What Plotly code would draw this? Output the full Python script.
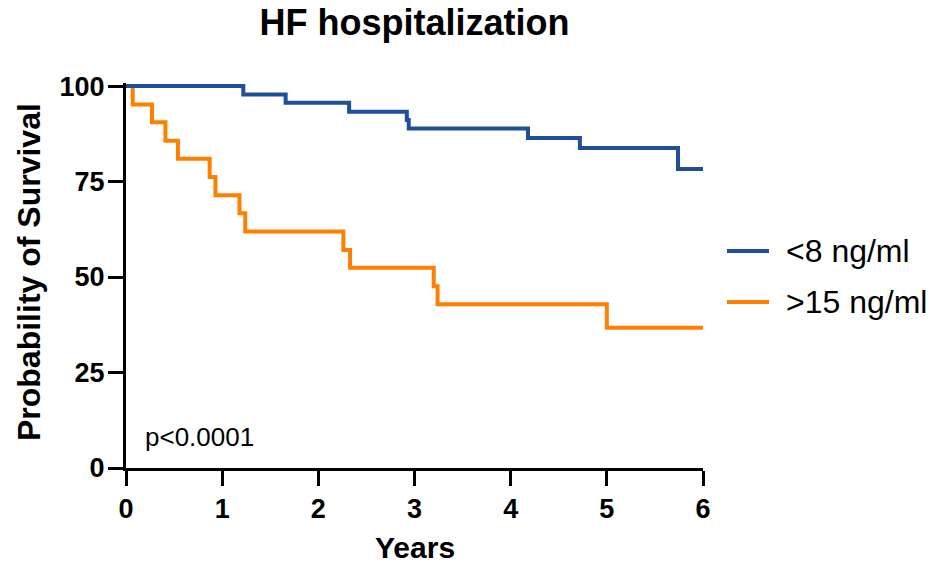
import plotly.graph_objects as go

# Data (Kaplan-Meier steps)
blue_name = "<8 ng/ml"
blue_t = [0, 1.22, 1.66, 2.32, 2.92, 2.94, 4.18, 4.72, 5.74, 6.0]
blue_s = [100, 97.8, 95.6, 93.3, 91.1, 88.9, 86.4, 83.8, 78.3, 78.3]

orange_name = ">15 ng/ml"
orange_t = [0, 0.07, 0.27, 0.41, 0.54, 0.87, 0.93, 1.18, 1.24, 2.26, 2.33, 3.20, 3.24, 5.0, 6.0]
orange_s = [100, 95.2, 90.5, 85.7, 81.0, 76.2, 71.4, 66.7, 61.9, 57.1, 52.4, 47.6, 42.9, 36.7, 36.7]

x_ticks = [0, 1, 2, 3, 4, 5, 6]
y_ticks = [0, 25, 50, 75, 100]

BLUE = "#1f4e9b"
ORANGE = "#ff8000"
FONT = "Liberation Sans, Arial, sans-serif"

fig = go.Figure()
fig.add_trace(go.Scatter(x=orange_t, y=orange_s, mode="lines", line=dict(color=ORANGE, width=4, shape="hv"),
                         name=orange_name, showlegend=False))
fig.add_trace(go.Scatter(x=blue_t, y=blue_s, mode="lines", line=dict(color=BLUE, width=4, shape="hv"),
                         name=blue_name, showlegend=False))

W, H = 933, 568
L, R = 126, 703
Y0, Y100 = 468, 86
ppu = (Y0 - Y100) / 100.0
ytop = 100.8
top = Y0 - ytop * ppu

fig.update_layout(
    width=W, height=H,
    margin=dict(l=L, r=W - R, t=top, b=H - Y0),
    plot_bgcolor="white", paper_bgcolor="white",
    font=dict(family=FONT, color="black"),
    title=dict(text="HF hospitalization", x=0.5, xref="paper", y=1 - 22 / H, yref="container",
               yanchor="middle", xanchor="center",
               font=dict(size=36, family=FONT, color="black", weight="bold")),
    xaxis=dict(range=[0, 6], tickvals=x_ticks, ticktext=[str(v) for v in x_ticks],
               showline=True, linecolor="black", linewidth=3, ticks="outside", ticklen=15,
               tickwidth=3, tickcolor="black", showgrid=False, zeroline=False,
               ticklabelstandoff=0,
               tickfont=dict(size=27, family=FONT, color="black", weight="bold")),
    yaxis=dict(range=[0, ytop], tickvals=y_ticks, ticktext=[str(v) for v in y_ticks],
               showline=True, linecolor="black", linewidth=3, ticks="outside", ticklen=15,
               tickwidth=3, tickcolor="black", showgrid=False, zeroline=False,
               ticklabelstandoff=-2,
               tickfont=dict(size=27, family=FONT, color="black", weight="bold")),
)

plot_h = Y0 - top
def py(p):
    return (Y0 - p) / plot_h
def px(p):
    return (p - L) / (R - L)

# Axis titles
fig.add_annotation(text="Years", xref="paper", yref="paper", x=px(415), y=py(548),
                   showarrow=False, xanchor="center", yanchor="middle",
                   font=dict(size=30, family=FONT, color="black", weight="bold"))
fig.add_annotation(text="Probability of Survival", xref="paper", yref="paper", x=px(29), y=py(272),
                   showarrow=False, xanchor="center", yanchor="middle", textangle=-90,
                   font=dict(size=32, family=FONT, color="black", weight="bold"))

# p-value
fig.add_annotation(text="p<0.0001", xref="paper", yref="paper", x=px(143), y=py(437),
                   showarrow=False, xanchor="left", yanchor="middle",
                   font=dict(size=26, family=FONT, color="black"))

# Legend (manual)
for name, color, yy in [(blue_name, BLUE, 251), (orange_name, ORANGE, 302)]:
    fig.add_shape(type="line", xref="paper", yref="paper", x0=px(727), x1=px(769), y0=py(yy), y1=py(yy),
                  line=dict(color=color, width=4))
    fig.add_annotation(text=name, xref="paper", yref="paper", x=px(784), y=py(yy),
                       showarrow=False, xanchor="left", yanchor="middle",
                       font=dict(size=32, family=FONT, color="black"))

fig.write_html("out.html")
